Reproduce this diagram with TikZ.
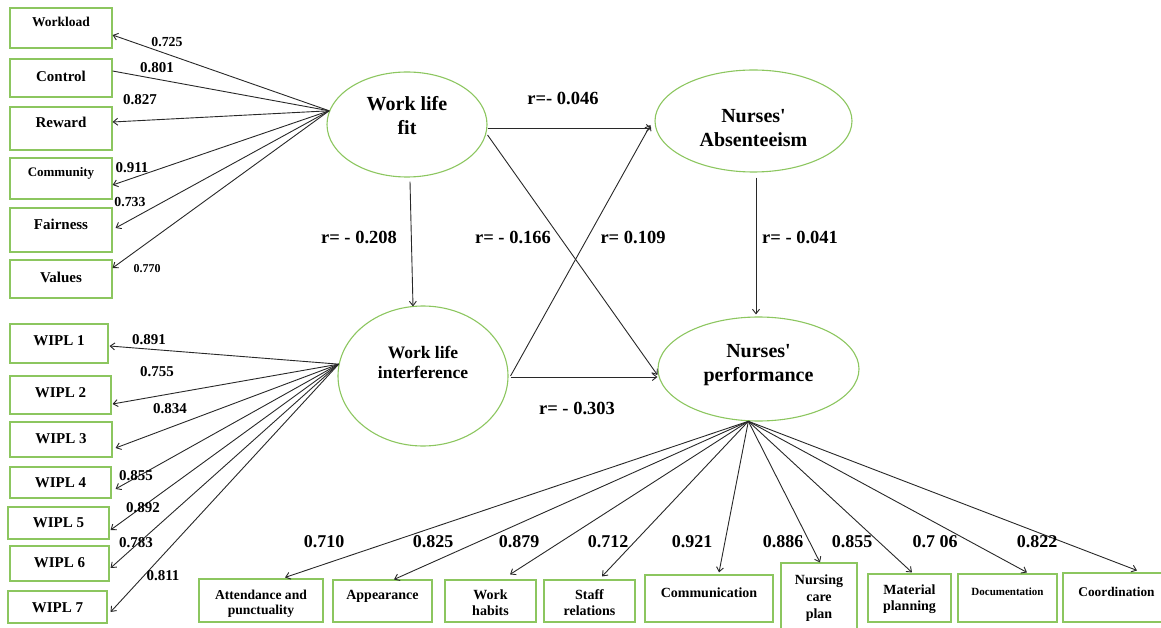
\documentclass[tikz,border=0pt]{standalone}
\usepackage{fontspec}
\setmainfont{Liberation Serif}[Ligatures=TeXOff]
\usetikzlibrary{arrows.meta,shapes.geometric}
\definecolor{bgreen}{RGB}{140,198,95}
\definecolor{ln}{RGB}{40,40,40}
\newcommand{\ml}[1]{\begin{tabular}[t]{@{}c@{}}#1\end{tabular}}
\begin{document}
\begin{tikzpicture}[x=1pt,y=-1pt,
  box/.style={draw=bgreen,line width=1.1pt,rectangle,inner sep=0pt,font=\bfseries\fontsize{15}{17}\selectfont},
  bbox/.style={box,font=\bfseries\fontsize{14}{16}\selectfont},
  ell/.style={draw=bgreen,line width=1.1pt,ellipse,inner sep=0pt,font=\bfseries\fontsize{20}{24}\selectfont},
  arr/.style={draw=ln,line width=0.9pt,-{Straight Barb[length=4.5pt,width=7pt]}},
  ln/.style={draw=ln,line width=0.9pt},
  ld/.style={inner sep=0pt,font=\bfseries\fontsize{15}{15}\selectfont},
  bl/.style={inner sep=0pt,font=\bfseries\fontsize{18}{18}\selectfont},
  rl/.style={inner sep=0pt,font=\bfseries\fontsize{18.5}{18.5}\selectfont},
  ba/.style={text height=0pt,text depth=#1},
  bb/.style={text height=#1,text depth=0pt},
  wh/.style 2 args={minimum width=#1,minimum height=#2}]
\useasboundingbox (0,0) rectangle (1161,628);

% ellipses
\node[ell,wh={160pt}{105pt},ba=27pt] (wf) at (407,124.5) {\ml{Work life\\fit}};
\node[ell,wh={197pt}{102pt},bb=4pt] (ab) at (753.5,121) {\ml{Nurses'\\Absenteeism}};
\node[ell,wh={170pt}{140pt},ba=36pt,font=\bfseries\fontsize{17.5}{20}\selectfont] (wi) at (423,376) {\ml{Work life\\interference}};
\node[ell,wh={201pt}{104pt},ba=24pt] (np) at (758.5,369) {\ml{Nurses'\\performance}};

% left boxes
\node[box,wh={102pt}{40pt},ba=2pt,font=\bfseries\fontsize{13.5}{16}\selectfont] (bwork) at (61,28) {Workload};
\node[box,wh={102pt}{38pt},bb=8pt] (bcon) at (61,78) {Control};
\node[box,wh={102pt}{43pt},ba=1pt] (brew) at (61,128.5) {Reward};
\node[box,wh={102pt}{41pt},ba=3pt,font=\bfseries\fontsize{13}{15}\selectfont] (bcom) at (61,178.5) {Community};
\node[box,wh={102pt}{44pt},bb=0pt] (bfair) at (61,230) {Fairness};
\node[box,wh={102pt}{38pt},bb=6pt] (bval) at (61,279) {Values};

% WIPL boxes
\node[box,wh={98pt}{39pt},bb=3pt] (w1) at (59,343.5) {WIPL 1};
\node[box,wh={101pt}{38pt},bb=4pt] (w2) at (60.5,395) {WIPL 2};
\node[box,wh={102pt}{35pt},bb=7pt] (w3) at (61,439.5) {WIPL 3};
\node[box,wh={101pt}{31pt},bb=9pt] (w4) at (60.5,482.5) {WIPL 4};
\node[box,wh={101pt}{32pt},bb=8pt] (w5) at (58.5,523) {WIPL 5};
\node[box,wh={99pt}{35pt},bb=7pt] (w6) at (59.5,563.5) {WIPL 6};
\node[box,wh={99pt}{32pt},bb=10pt] (w7) at (57.5,607) {WIPL 7};

% bottom boxes
\node[bbox,wh={124pt}{43pt},ba=3pt,font=\bfseries\fontsize{13.6}{15}\selectfont] (p1) at (261,600.5) {\ml{Attendance and\\punctuality}};
\node[bbox,wh={99pt}{42pt},ba=4pt] (p2) at (382.5,601) {Appearance};
\node[bbox,wh={91pt}{42pt},ba=4pt] (p3) at (490.5,601) {\ml{Work\\habits}};
\node[bbox,wh={91pt}{42pt},ba=4pt] (p4) at (589.5,601) {\ml{Staff\\relations}};
\node[bbox,wh={128pt}{47pt},ba=3pt] (p5) at (709,598.5) {Communication};
\node[bbox,wh={76pt}{69pt},ba=27pt,font=\bfseries\fontsize{14}{17}\selectfont] (p6) at (819,597.5) {\ml{Nursing\\care\\plan}};
\node[bbox,wh={83pt}{48pt},ba=8pt] (p7) at (909.5,598) {\ml{Material\\planning}};
\node[bbox,wh={99pt}{48pt},ba=6pt,font=\bfseries\fontsize{11}{13}\selectfont] (p8) at (1007.5,598) {Documentation};
\node[bbox,wh={107pt}{49pt},ba=3pt,font=\bfseries\fontsize{13.3}{15}\selectfont] (p9) at (1116.5,597.5) {Coordination};

% work life fit spokes
\draw[arr] (wf.170) -- ([yshift=-7pt]bwork.east);
\draw[ln]  (wf.170) -- ([yshift=7pt]bcon.east);
\draw[arr] (wf.170) -- ([yshift=6.5pt]brew.east);
\draw[arr] (wf.170) -- ([yshift=-6.5pt]bcom.east);
\draw[arr] (wf.170) -- ([xshift=3pt,yshift=2pt]bfair.east);
\draw[arr] (wf.170) -- ([yshift=11pt]bval.east);

% work life interference spokes
\draw[arr] (wi.172) -- ([xshift=1pt,yshift=-2.5pt]w1.east);
\draw[arr] (wi.172) -- ([xshift=1pt,yshift=-9pt]w2.east);
\draw[arr] (wi.172) -- ([xshift=3pt,yshift=-8.5pt]w3.east);
\draw[arr] (wi.172) -- ([xshift=4pt,yshift=-6.5pt]w4.east);
\draw[arr] (wi.172) -- ([xshift=1pt,yshift=-7pt]w5.east);
\draw[arr] (wi.172) -- ([xshift=1pt,yshift=-4.5pt]w6.east);
\draw[arr] (wi.172) -- ([xshift=3pt,yshift=-5pt]w7.east);

% performance spokes
\draw[arr] (np.259) -- ([xshift=24pt,yshift=1pt]p1.north);
\draw[arr] (np.259) -- ([xshift=11.5pt]p2.north);
\draw[arr] (np.259) -- ([xshift=19.5pt,yshift=5pt]p3.north);
\draw[arr] (np.259) -- ([xshift=12.5pt,yshift=3pt]p4.north);
\draw[arr] (np.259) -- ([xshift=10pt,yshift=2pt]p5.north);
\draw[arr] (np.259) -- ([xshift=1pt]p6.north);
\draw[arr] (np.259) -- ([xshift=2.5pt,yshift=1pt]p7.north);
\draw[arr] (np.259) -- ([xshift=19.5pt,yshift=1pt]p8.north);
\draw[arr] (np.259) -- ([xshift=20.5pt,yshift=2pt]p9.north);

% structural paths
\draw[arr] ([yshift=-3.5pt]wf.east) -- ([xshift=-3pt,yshift=-7pt]ab.west);
\draw[arr] ([xshift=3pt,yshift=-4pt]wf.south) -- ([xshift=-10pt,yshift=-1pt]wi.north);
\draw[arr] ([yshift=-10.5pt]wf.east) -- ([yshift=-6pt]np.west);
\draw[arr] ([xshift=2pt]wi.east) -- ([xshift=-4pt,yshift=-4pt]ab.west);
\draw[arr] ([xshift=2pt,yshift=-1pt]wi.east) -- ([yshift=-8pt]np.west);
\draw[arr] ([xshift=2.5pt,yshift=-5pt]ab.south) -- ([xshift=-2.5pt,yshift=2pt]np.north);

% r labels
\node[rl] (r1) at (563,98) {r=- 0.046};
\node[rl] (r2) at (359,237) {r= - 0.208};
\node[rl] (r3) at (513,237) {r= - 0.166};
\node[rl] (r4) at (633,237) {r= 0.109};
\node[rl] (r5) at (800,237) {r= - 0.041};
\node[rl] (r6) at (577,408) {r= - 0.303};

% left loadings
\node[ld,font=\bfseries\fontsize{13.8}{14}\selectfont] (l1) at (167,42) {0.725};
\node[ld] (l2) at (157,68) {0.801};
\node[ld] (l3) at (140,100) {0.827};
\node[ld] (l4) at (132,168) {0.911};
\node[ld,font=\bfseries\fontsize{13.8}{14}\selectfont] (l5) at (130,202) {0.733};
\node[ld,font=\bfseries\fontsize{12}{12}\selectfont] (l6) at (147,269) {0.770};

% WIPL loadings
\node[ld] (m1) at (149,340) {0.891};
\node[ld] (m2) at (157,372) {0.755};
\node[ld] (m3) at (170,409) {0.834};
\node[ld] (m4) at (136,476) {0.855};
\node[ld] (m5) at (143,508) {0.892};
\node[ld] (m6) at (136,543) {0.783};
\node[ld] (m7) at (163,576) {0.811};

% bottom loadings
\node[bl] (q1) at (324,542) {0.710};
\node[bl] (q2) at (433,542) {0.825};
\node[bl] (q3) at (519,542) {0.879};
\node[bl] (q4) at (608,542) {0.712};
\node[bl] (q5) at (692,542) {0.921};
\node[bl] (q6) at (783,542) {0.886};
\node[bl] (q7) at (852,542) {0.855};
\node[bl] (q8) at (935,542) {0.7 06};
\node[bl] (q9) at (1037,542) {0.822};
\end{tikzpicture}
\end{document}
